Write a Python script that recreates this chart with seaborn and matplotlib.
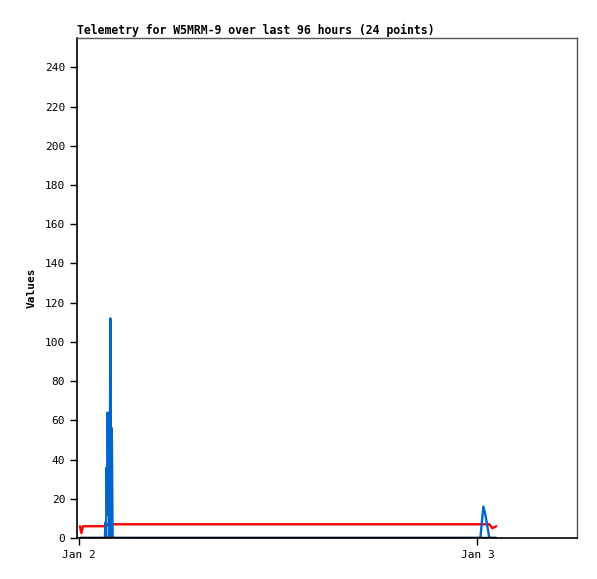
import pandas as pd
import seaborn as sns
import matplotlib.pyplot as plt
import matplotlib.dates as mdates

# Hours since Jan 2 00:00 for each of the 24 telemetry packets
hours = [0.06, 0.15, 0.24,
         1.56, 1.60, 1.64, 1.67, 1.70, 1.73, 1.77, 1.80, 1.85, 1.89, 1.94, 1.98, 2.03, 2.10,
         24.18, 24.36, 24.48, 24.60, 24.72, 24.90, 25.14]
red_vals = [6, 2.5, 6,
            6, 6, 6, 7, 7, 7, 7, 7, 7, 7, 7, 7, 7, 7,
            7, 7, 7, 7, 7, 5, 6]
blue_vals = [0, 0, 0,
             0, 8, 0, 36, 12, 64, 20, 56, 0, 112, 0, 56, 0, 0,
             0, 16, 12, 6, 0, 0, 0]
black_vals = [0] * 24

base = pd.Timestamp("2024-01-02")
times = base + pd.to_timedelta(hours, unit="h")

df = pd.DataFrame({"time": times, "ch1": red_vals, "ch2": blue_vals, "ch3": black_vals})
long_df = df.melt(id_vars="time", var_name="channel", value_name="value")

sns.set_style("white")
plt.rcParams["font.family"] = ["DejaVu Sans Mono"]

fig = plt.figure(figsize=(5.97, 5.79), dpi=100)
ax = fig.add_axes([77 / 597, 1 - 538 / 579, 500 / 597, 500 / 579])

sns.lineplot(data=long_df, x="time", y="value", hue="channel",
             hue_order=["ch1", "ch2", "ch3"],
             palette={"ch1": "#ff0000", "ch2": "#0066cc", "ch3": "#000000"},
             estimator=None, sort=False, linewidth=1.7, legend=False, ax=ax)

ax.set_xlim(base - pd.Timedelta(minutes=7), base + pd.Timedelta(hours=30))
ax.set_ylim(0, 255)
ax.set_yticks(range(0, 241, 20))
ax.set_xticks([base, base + pd.Timedelta(days=1)])
ax.xaxis.set_major_formatter(mdates.DateFormatter("%b %-d"))

ax.tick_params(axis="both", direction="out", length=5, width=1, color="black",
               labelsize=8, labelcolor="black", bottom=True, left=True)
ax.set_xlabel("")
ax.set_ylabel("Values", fontsize=8, fontweight="bold", color="black", labelpad=6)
ax.set_title("Telemetry for W5MRM-9 over last 96 hours (24 points)",
             loc="left", fontsize=8.3, fontweight="bold", color="black", pad=3)

for side in ["left", "bottom"]:
    ax.spines[side].set_color("black")
    ax.spines[side].set_linewidth(1.2)
for side in ["top", "right"]:
    ax.spines[side].set_color("#555555")
    ax.spines[side].set_linewidth(1)

fig.savefig("out.png", dpi=100)
